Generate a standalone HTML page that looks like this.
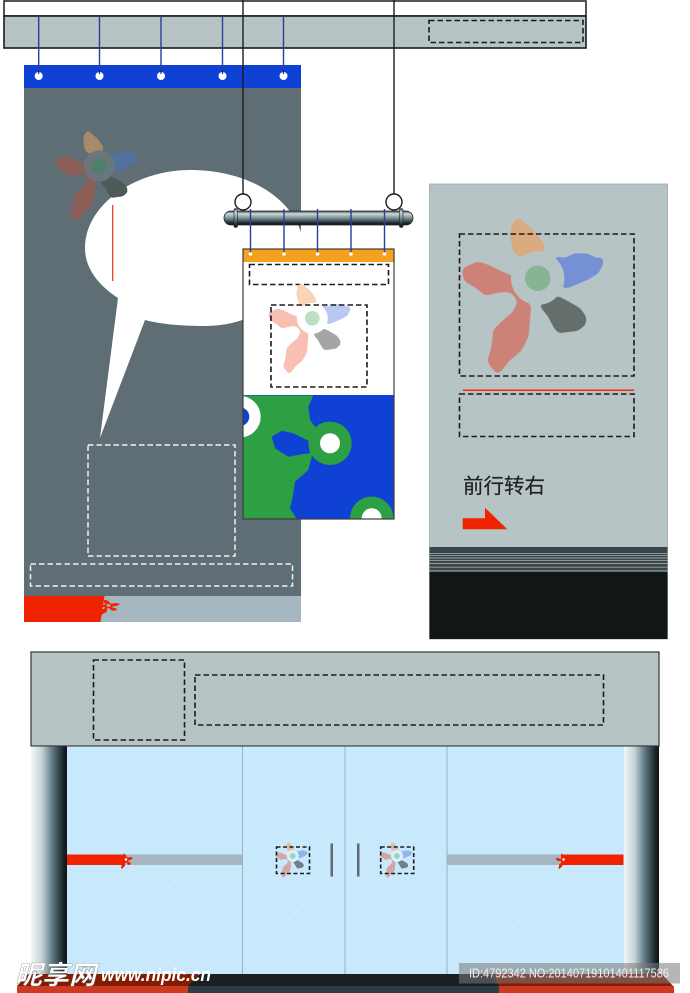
<!DOCTYPE html>
<html><head><meta charset="utf-8"><style>
html,body{margin:0;padding:0;background:#fff}
svg{display:block}
.d{fill:none;stroke:#1c1c1c;stroke-width:1.6;stroke-dasharray:5.5 3}
.w{fill:none;stroke:#f0f4f4;stroke-width:1.5;stroke-dasharray:5.5 3}
.o{fill:var(--o)}.b{fill:var(--b)}.g{fill:var(--g)}.r{fill:var(--r)}.c{fill:var(--c)}.h{fill:var(--h)}
text{font-family:"Liberation Sans","Noto Sans CJK SC",sans-serif}
</style></head><body>
<svg width="690" height="993" viewBox="0 0 690 993" xmlns="http://www.w3.org/2000/svg">
<defs>
<linearGradient id="col" x1="0" x2="1" y1="0" y2="0"><stop offset="0" stop-color="#f4f6f6"/><stop offset=".3" stop-color="#c5d3d6"/><stop offset=".6" stop-color="#5c7782"/><stop offset=".9" stop-color="#1a2428"/><stop offset="1" stop-color="#0c1214"/></linearGradient>
<linearGradient id="tube" x1="0" x2="0" y1="0" y2="1"><stop offset="0" stop-color="#33444a"/><stop offset=".2" stop-color="#cfd9db"/><stop offset=".5" stop-color="#7c9096"/><stop offset=".85" stop-color="#1e2a2e"/><stop offset="1" stop-color="#0f1618"/></linearGradient>
<clipPath id="sign"><rect x="243" y="395" width="151" height="124"/></clipPath>
<filter id="sm" x="-10%" y="-10%" width="120%" height="120%" color-interpolation-filters="sRGB"><feGaussianBlur stdDeviation="7"/><feComponentTransfer><feFuncA type="linear" slope="6" intercept="-2.3"/></feComponentTransfer></filter>
<g id="logo">
<g filter="url(#sm)">
<polygon class="o" points="-58,-183 -38,-165 -8,-140 17,-105 22,-82 -18,-77 -51,-63 -73,-80 -83,-130 -76,-165"/>
<polygon class="b" points="49,-67 82,-60 112,-75 152,-73 177,-60 195,-63 197,-45 182,-15 152,3 112,20 80,32 60,0 60,-40"/>
<polygon class="g" points="62,54 92,70 127,90 145,115 145,137 122,157 82,162 62,165 47,145 32,115 5,82 37,60"/>
<polygon class="r" points="-225,-30 -203,-40 -178,-50 -148,-40 -108,-20 -70,-5 -60,25 -45,55 -20,82 -23,115 -28,175 -48,215 -88,250 -113,283 -125,285 -151,250 -138,205 -133,155 -108,130 -73,100 -60,70 -76,45 -98,40 -128,45 -158,52 -183,30 -218,10 -225,-10"/>
</g>
<circle class="h" r="80"/>
<circle class="c" r="38"/>
</g>
</defs>

<!-- left banner -->
<rect x="24" y="65" width="277" height="557" fill="#5f6e75"/>
<rect x="24" y="65" width="277" height="23" fill="#0f42d4"/>
<path d="M85,248C85,205 135,170 190,170C245,170 290,195 302,235C305,290 260,326 205,326C180,326 160,324 145,320L100,438L118,298C98,285 85,268 85,248Z" fill="#fff"/>
<rect x="112" y="205" width="1.3" height="76" fill="#e8452a"/>
<use href="#logo" transform="translate(99.3 166) scale(.193)" style="--o:#a88a69;--b:#52719f;--g:#4e5a5a;--r:#8c5e58;--c:#4d8068;--h:#69777d"/>
<rect class="w" x="88" y="445" width="147" height="111"/>
<rect class="w" x="30.5" y="564" width="262" height="22"/>
<rect x="24" y="596" width="277" height="26" fill="#a5b6c1"/>
<polygon points="24,596 104.5,596 100.5,622 24,622" fill="#f02300"/>
<use href="#logo" transform="translate(108.5 605.5) scale(.057 .032)" style="--o:#f02300;--b:#f02300;--g:#f02300;--r:#f02300;--c:#a5b6c1;--h:#f02300"/>

<!-- top bar -->
<rect x="4" y="1" width="582" height="15" fill="#fff" stroke="#2a2a2a" stroke-width="1.6"/>
<rect x="4" y="16" width="582" height="32" fill="#b7c4c5" stroke="#1c1c1c" stroke-width="1.6"/>
<rect class="d" x="429" y="20.5" width="154" height="22"/>
<path d="M38.7,16V75M99.5,16V75M161,16V75M222.5,16V75M283.5,16V75" stroke="#2b3f9e" stroke-width="1.4"/>
<g fill="#fff"><circle cx="38.7" cy="76" r="4"/><circle cx="99.5" cy="76" r="4"/><circle cx="161" cy="76" r="4"/><circle cx="222.5" cy="76" r="4"/><circle cx="283.5" cy="76" r="4"/></g>
<path d="M38.7,70V74M99.5,70V74M161,70V74M222.5,70V74M283.5,70V74" stroke="#1c2a70" stroke-width="1.2"/>

<!-- hanging sign -->
<path d="M243,0V194M394,0V194" stroke="#1c1c1c" stroke-width="1.4"/>
<circle cx="243" cy="202" r="8" fill="#fff" stroke="#1c1c1c" stroke-width="1.4"/>
<circle cx="394" cy="202" r="8" fill="#fff" stroke="#1c1c1c" stroke-width="1.4"/>
<rect x="224" y="211" width="189" height="14" rx="7" fill="url(#tube)" stroke="#1c2528" stroke-width=".8"/>
<rect x="234" y="208.5" width="3.5" height="19" rx="1.5" fill="url(#tube)" stroke="#1c2528" stroke-width=".6"/>
<rect x="399.5" y="208.5" width="3.5" height="19" rx="1.5" fill="url(#tube)" stroke="#1c2528" stroke-width=".6"/>
<rect x="243" y="249" width="151" height="270" fill="#fff"/>
<rect x="243" y="249" width="151" height="13" fill="#f5a11e"/>
<rect class="d" x="249.5" y="264.5" width="139" height="20"/>
<use href="#logo" transform="translate(312.3 318.3) scale(.193)" style="--o:#fad5b5;--b:#b8c8f0;--g:#a5a5a5;--r:#f9bfb3;--c:#bde0c5;--h:#fff"/>
<rect class="d" x="271" y="305" width="96" height="82"/>
<g clip-path="url(#sign)">
<rect x="243" y="395" width="151" height="124" fill="#0f42d4"/>
<polygon fill="#2ca043" points="243,395.5 313.3,395.5 308.3,406.7 310,420 316,428 320,450 311.7,456.7 308.3,470 295,481.7 292.7,496.7 290,508.3 296.7,519 243,519"/>
<polygon fill="#0f42d4" points="271.7,436.7 281.7,430.7 293.3,433.3 308.3,440.7 310,453.3 303.3,454 288.3,456.7 275,448.3"/>
<circle cx="330" cy="443.3" r="21.7" fill="#2ca043"/><circle cx="330" cy="443.3" r="10" fill="#fff"/>
<circle cx="371.7" cy="518.3" r="21.7" fill="#2ca043"/><circle cx="371.7" cy="518.3" r="10" fill="#fff"/>
<circle cx="240" cy="416.7" r="20.7" fill="#fff"/><circle cx="240" cy="416.7" r="9.3" fill="#0f42d4"/>
</g>
<rect x="243" y="249" width="151" height="270" fill="none" stroke="#3c3c3c" stroke-width="1.2"/>
<path d="M250.5,209V254M284,209V254M317.5,209V254M351,209V254M384.5,209V254" stroke="#2b3f9e" stroke-width="1.4"/>
<g fill="#fff"><circle cx="250.5" cy="254" r="1.8"/><circle cx="284" cy="254" r="1.8"/><circle cx="317.5" cy="254" r="1.8"/><circle cx="351" cy="254" r="1.8"/><circle cx="384.5" cy="254" r="1.8"/></g>

<!-- right panel -->
<rect x="429.5" y="184" width="238" height="455" fill="#b7c4c5" stroke="#9ba6a8" stroke-width=".8"/>
<use href="#logo" transform="translate(537.7 278.3) scale(.3333)" style="--o:#d9ab7e;--b:#7391d4;--g:#666e6c;--r:#cc8276;--c:#85b595;--h:#b7c4c5"/>
<rect class="d" x="459.5" y="234" width="174.5" height="142"/>
<rect x="463" y="389.5" width="171" height="1.5" fill="#ee2a10"/>
<rect class="d" x="459.5" y="394" width="174.5" height="42.5"/>
<text x="463" y="493" font-size="20.5" fill="#222" stroke="#222" stroke-width=".2">前行转右</text>
<polygon points="462.7,518.3 485,518.3 485,507.7 507.3,529.3 462.7,529.3" fill="#f02300"/>
<rect x="429.5" y="547" width="238" height="25" fill="#3a4649"/>
<g fill="#aab6b8"><rect x="429.5" y="553" width="238" height=".7"/><rect x="429.5" y="555.3" width="238" height=".7"/><rect x="429.5" y="557.5" width="238" height=".9"/><rect x="429.5" y="560" width="238" height=".7"/><rect x="429.5" y="563" width="238" height=".8"/><rect x="429.5" y="566.8" width="238" height=".7"/><rect x="429.5" y="570.5" width="238" height=".9"/></g>
<rect x="429.5" y="572" width="238" height="67" fill="#111616"/>

<!-- storefront -->
<rect x="31" y="652" width="628" height="94" fill="#b7c4c5" stroke="#333" stroke-width="1.2"/>
<rect class="d" x="93.5" y="660" width="91" height="80"/>
<rect class="d" x="195" y="675" width="408.5" height="50"/>
<rect x="67" y="746.5" width="557" height="228" fill="#c8e8fb"/>
<rect x="31" y="746.5" width="36" height="228" fill="url(#col)"/>
<rect x="624" y="746.5" width="35" height="228" fill="url(#col)"/>
<path d="M242.5,746.5V974M345,746.5V974M447,746.5V974" stroke="#9db3bd" stroke-width="1"/>
<path d="M105,930L150,875M137,925L180,874M280,930L320,885M385,925L410,895M510,930L550,885M545,925L585,875" stroke="#d6effd" stroke-width=".7"/>
<rect x="67" y="854.5" width="175" height="10.5" fill="#a5b6c1"/>
<rect x="447.5" y="854.5" width="176" height="10.5" fill="#a5b6c1"/>
<rect x="67" y="854.5" width="57" height="10.5" fill="#f02300"/>
<rect x="561" y="854.5" width="62.5" height="10.5" fill="#f02300"/>
<use href="#logo" transform="translate(126 859.5) scale(.033)" style="--o:#f02300;--b:#f02300;--g:#f02300;--r:#f02300;--c:#fff;--h:#f02300"/>
<use href="#logo" transform="translate(563.5 859.5) scale(.033)" style="--o:#f02300;--b:#f02300;--g:#f02300;--r:#f02300;--c:#fff;--h:#f02300"/>
<use href="#logo" transform="translate(292.7 856) scale(.076)" style="--o:#e0c0a0;--b:#8fb5f0;--g:#708088;--r:#d5a5a8;--c:#90d5c0;--h:#dbeffa"/>
<use href="#logo" transform="translate(397 856) scale(.076)" style="--o:#e0c0a0;--b:#8fb5f0;--g:#708088;--r:#d5a5a8;--c:#90d5c0;--h:#dbeffa"/>
<rect class="d" x="276.5" y="847" width="33" height="26.5" style="stroke-dasharray:4 2.5"/>
<rect class="d" x="380.7" y="847" width="33" height="26.5" style="stroke-dasharray:4 2.5"/>
<rect x="330.5" y="843.5" width="2.5" height="33" fill="#5c6a70"/>
<rect x="357" y="843.5" width="2.5" height="33" fill="#5c6a70"/>

<!-- floor -->
<rect x="28" y="974" width="635" height="12" fill="#1a1f22"/>
<polygon points="28,974 200,974 188,986 17,986" fill="#841b03"/>
<polygon points="492,974 662,974 673,986 499,986" fill="#841b03"/>
<rect x="17" y="986" width="171" height="7" fill="#cd3a22"/>
<rect x="188" y="986" width="311" height="7" fill="#2c3d48"/>
<rect x="499" y="986" width="175" height="7" fill="#cd3a22"/>

<!-- watermark -->
<text x="15" y="984" font-size="26" font-weight="700" font-style="italic" fill="#fff" stroke="#666" stroke-width=".3" textLength="81" lengthAdjust="spacingAndGlyphs">昵享网</text>
<text x="101" y="981" font-size="18" font-weight="700" font-style="italic" fill="#fff" textLength="110" lengthAdjust="spacingAndGlyphs">www.nipic.cn</text>
<rect x="459" y="963" width="221" height="20.5" fill="#7a7a7a" fill-opacity=".55"/>
<text x="469" y="977.5" font-size="12.5" fill="#f0f0f0" textLength="200" lengthAdjust="spacingAndGlyphs">ID:4792342 NO:20140719101401117586</text>
</svg>
</body></html>
